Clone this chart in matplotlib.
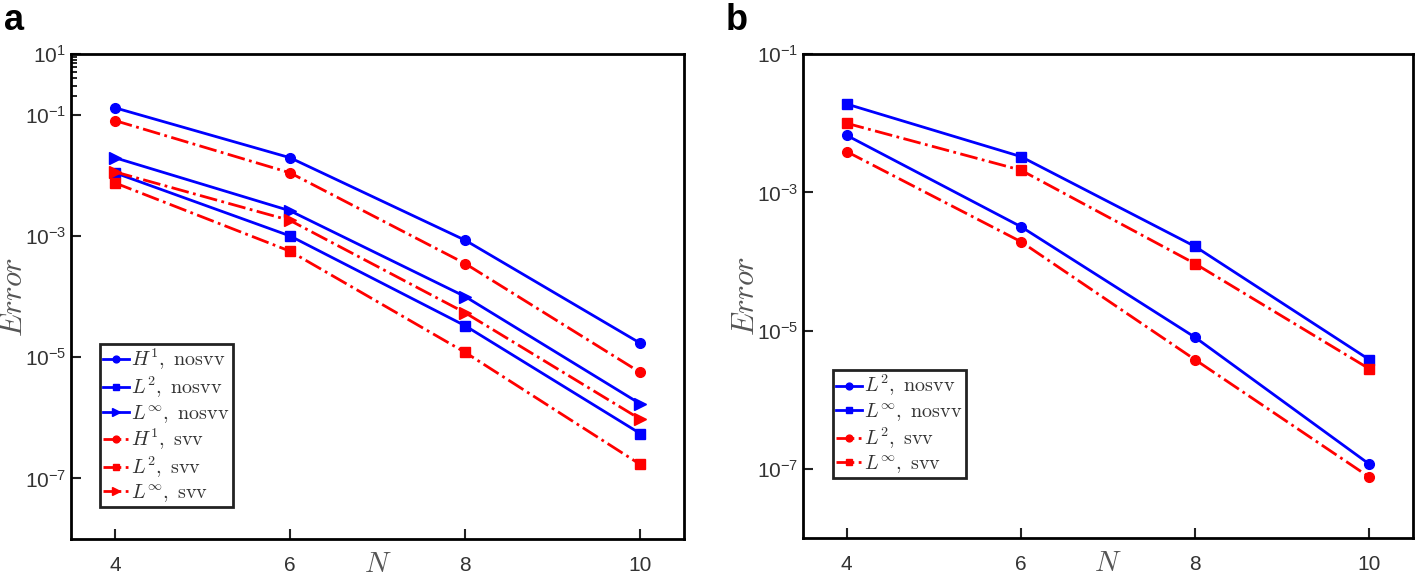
# Convergence of error vs N, with and without SVV

import numpy as np
import matplotlib
matplotlib.use("Agg")
import matplotlib.pyplot as plt
from matplotlib.ticker import FixedLocator, NullFormatter

plt.rcParams['font.family'] = ['Liberation Sans', 'DejaVu Sans']
plt.rcParams['mathtext.fontset'] = 'cm'

N = [4, 6, 8, 10]

# panel a
a_H1_nosvv = [0.13, 0.0195, 8.5e-4, 1.7e-5]
a_L2_nosvv = [0.011, 1.0e-3, 3.3e-5, 5.5e-7]
a_Linf_nosvv = [0.0195, 2.6e-3, 1.0e-4, 1.7e-6]
a_H1_svv = [0.08, 0.011, 3.5e-4, 5.6e-6]
a_L2_svv = [7.5e-3, 5.6e-4, 1.2e-5, 1.7e-7]
a_Linf_svv = [0.0114, 1.8e-3, 5.4e-5, 9.5e-7]

# panel b
b_L2_nosvv = [6.7e-3, 3.2e-4, 8.0e-6, 1.17e-7]
b_Linf_nosvv = [0.019, 3.3e-3, 1.65e-4, 3.8e-6]
b_L2_svv = [3.9e-3, 1.94e-4, 3.8e-6, 7.6e-8]
b_Linf_svv = [0.01, 2.1e-3, 9.3e-5, 2.8e-6]

blue = '#0000ff'
red = '#ff0000'

fig = plt.figure(figsize=(14.15, 5.76), dpi=100)
ax1 = fig.add_axes([0.0502, 0.0642, 0.4332, 0.842])
ax2 = fig.add_axes([0.5675, 0.066, 0.431, 0.840])

def style(ax, ylo, yhi, yt, ylab):
    ax.set_yscale('log')
    ax.set_xlim(3.5, 10.5)
    ax.set_ylim(ylo, yhi)
    ax.set_xticks(N)
    ax.set_xticklabels([str(n) for n in N])
    ax.yaxis.set_major_locator(FixedLocator(yt))
    ax.set_yticklabels([r'$\mathregular{10^{%s}}$' % l for l in ylab])
    ax.yaxis.set_minor_locator(FixedLocator([]))
    ax.yaxis.set_minor_formatter(NullFormatter())
    ax.tick_params(direction='in', length=7, width=1.5, labelsize=15,
                   colors='#222222', labelcolor='#333333', top=False, right=False)
    ax.tick_params(axis='x', pad=12)
    for s in ax.spines.values():
        s.set_linewidth(2.0)
    ax.set_ylabel(r'$Error$', fontsize=22, color='#555555', va='center')
    ax.yaxis.set_label_coords(-0.093, 0.5)
    ax.set_xlabel(r'$N$', fontsize=21, color='#555555')
    ax.xaxis.set_label_coords(0.5, -0.022)

lw = 2.0
ms = 7
ax1.plot(N, a_H1_nosvv, '-', color=blue, marker='o', lw=lw, ms=ms, label=r'$H^1,\ \mathrm{nosvv}$')
ax1.plot(N, a_L2_nosvv, '-', color=blue, marker='s', lw=lw, ms=ms, label=r'$L^2,\ \mathrm{nosvv}$')
ax1.plot(N, a_Linf_nosvv, '-', color=blue, marker='>', lw=lw, ms=ms + 1, label=r'$L^\infty,\ \mathrm{nosvv}$')
ax1.plot(N, a_H1_svv, '-.', color=red, marker='o', lw=lw, ms=ms, label=r'$H^1,\ \mathrm{svv}$')
ax1.plot(N, a_L2_svv, '-.', color=red, marker='s', lw=lw, ms=ms, label=r'$L^2,\ \mathrm{svv}$')
ax1.plot(N, a_Linf_svv, '-.', color=red, marker='>', lw=lw, ms=ms + 1, label=r'$L^\infty,\ \mathrm{svv}$')
style(ax1, 1e-8, 1e0, [1e-7, 1e-5, 1e-3, 1e-1, 1e0], ['-7', '-5', '-3', '-1', '1'])
ax1.yaxis.set_minor_locator(FixedLocator([k * 0.1 for k in range(2, 10)]))
ax1.tick_params(axis='y', which='minor', direction='in', length=4, width=1.2)

ax2.plot(N, b_L2_nosvv, '-', color=blue, marker='o', lw=lw, ms=ms, label=r'$L^2,\ \mathrm{nosvv}$')
ax2.plot(N, b_Linf_nosvv, '-', color=blue, marker='s', lw=lw, ms=ms, label=r'$L^\infty,\ \mathrm{nosvv}$')
ax2.plot(N, b_L2_svv, '-.', color=red, marker='o', lw=lw, ms=ms, label=r'$L^2,\ \mathrm{svv}$')
ax2.plot(N, b_Linf_svv, '-.', color=red, marker='s', lw=lw, ms=ms, label=r'$L^\infty,\ \mathrm{svv}$')
style(ax2, 1e-8, 1e-1, [1e-7, 1e-5, 1e-3, 1e-1], ['-7', '-5', '-3', '-1'])

for ax, anchor in [(ax1, (0.047, 0.402)), (ax2, (0.049, 0.347))]:
    leg = ax.legend(loc='upper left', bbox_to_anchor=anchor, fontsize=14.5,
                    handlelength=1.3, handletextpad=0.1, borderpad=0.15,
                    labelspacing=0.12, borderaxespad=0, fancybox=False,
                    framealpha=1, markerscale=0.7)
    leg.get_frame().set_edgecolor('#222222')
    leg.get_frame().set_linewidth(2.0)
    for t in leg.get_texts():
        t.set_color('#333333')

fig.text(0.003, 0.995, 'a', fontsize=26, fontweight='bold', va='top', ha='left')
fig.text(0.513, 0.995, 'b', fontsize=26, fontweight='bold', va='top', ha='left')

fig.savefig('out.png', dpi=100)
